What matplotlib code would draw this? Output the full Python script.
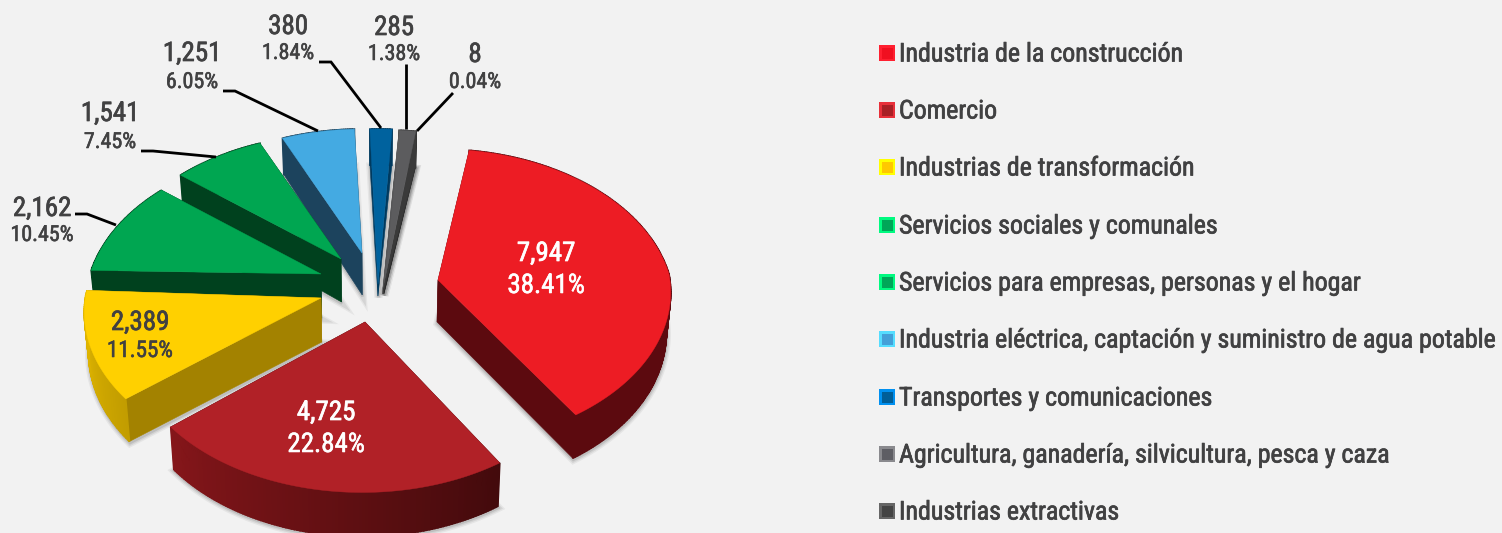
import numpy as np
import matplotlib
matplotlib.use("Agg")
import matplotlib.pyplot as plt
from matplotlib.patches import Polygon, Rectangle
from matplotlib import colors as mc
import matplotlib.patheffects as pe

# ---------- data ----------
categories = ["Industria de la construcción", "Comercio", "Industrias de transformación",
              "Servicios sociales y comunales", "Servicios para empresas, personas y el hogar",
              "Industria eléctrica, captación y suministro de agua potable",
              "Transportes y comunicaciones", "Agricultura, ganadería, silvicultura, pesca y caza",
              "Industrias extractivas"]
values = [7947, 4725, 2389, 2162, 1541, 1251, 380, 285, 8]
value_labels = ["7,947", "4,725", "2,389", "2,162", "1,541", "1,251", "380", "285", "8"]
pct_labels = ["38.41%", "22.84%", "11.55%", "10.45%", "7.45%", "6.05%", "1.84%", "1.38%", "0.04%"]

# ---------- styling / layout ----------
BG = "#F2F2F2"
TXT = "#414142"
top_col = ["#ED1C24", "#B12127", "#FFD000", "#00A651", "#00A651", "#44AAE2", "#00629E", "#5C5C5E", "#444444"]
wall_col = ["#5C0A0F", "#430A0C", "#A38200", "#00411E", "#00411E", "#1C435D", "#003A5F", "#3A3A3A", "#333333"]
rim_col = [("#5C0A0F", "#5C0A0F"), ("#430A0C", "#85161A"), ("#C29D00", "#E6BA00"),
           ("#00411E", "#00411E"), ("#00411E", "#00411E"), ("#1C435D", "#1C435D"),
           ("#003A5F", "#003A5F"), ("#3A3A3A", "#3A3A3A"), ("#333333", "#333333")]
# anchor of each exploded slice on the page, and the visible tip of the wedge
anchor = [(438, 274), (362, 322), (317, 294), (321, 274), (340, 259), (362.5, 254), (378, 254), (385, 255), (385, 255)]
tip = [(438, 280), (365, 322), (321, 298), (321, 274), (341, 259), (362, 253), (378, 284), (383, 288), (384, 290)]
tip_depth = [42, 44, 44, 44, 43, 42, 12, 6, 4]
A, B = 231.0, 150.0
K_BACK, K_FRONT = 0.20, 0.12
THETA0 = 9.3
CX = 375.0
draw_order = [8, 7, 6, 5, 4, 3, 2, 1, 0]

sw_outer = ["#FF2030", "#E8303A", "#FFFF00", "#00FA80", "#00FA80", "#55DDFF", "#0090F0", "#8A8A8E", "#666666"]
sw_inner = ["#F01020", "#A82025", "#FFC800", "#00A658", "#00A658", "#44A0D8", "#005E98", "#5E5E64", "#444444"]
legend_y = [53, 110, 167, 225, 282, 339, 397, 454, 511]

label_pos = [(546, 252, 284), (326, 411, 443), (140, 321, 349), (42, 207, 234), (110, 112, 141),
             (192, 52, 81), (288, 25, 52), (394, 26, 53), (475, 53, 81)]
label_col = ["white", "white", TXT, TXT, TXT, TXT, TXT, TXT, TXT]
pct_px = [25, 25, 21, 20, 20, 20, 20, 20, 20]
leaders = [None, None, None,
           [(75, 214), (87, 214), (116, 225)],
           [(141, 151), (153, 151), (216, 157)],
           [(223, 91), (235, 91), (318, 131)],
           [(319, 62), (331, 62), (381, 128)],
           [(406, 64), (406, 129)],
           [(453, 93), (417, 131)]]

plt.rcParams["font.family"] = ["Roboto Condensed", "Roboto", "DejaVu Sans"]

fig = plt.figure(figsize=(15.02, 5.33), dpi=100, facecolor=BG)
ax = fig.add_axes([0, 0, 1, 1])
ax.set_xlim(0, 1502)
ax.set_ylim(533, 0)
ax.axis("off")


def px(p):
    return p * 0.72


def rim_point(i, th):
    t = np.radians(th)
    u, v = np.sin(t), np.cos(t)
    d = 1 + (K_BACK if v > 0 else K_FRONT) * v
    return anchor[i][0] + A * u / d, anchor[i][1] - B * v / d


def lower(x, y, depth):
    return CX + (x - CX) * 0.985, y + depth


fracs = np.array(values, float) / np.sum(values)
edges = THETA0 + np.concatenate([[0], np.cumsum(fracs) * 360])

for rank, i in enumerate(draw_order):
    ths = np.linspace(edges[i], edges[i + 1], max(2, int((edges[i + 1] - edges[i]) * 1.5) + 2))
    top = [rim_point(i, t) for t in ths]
    dep = [40 - 4 * np.cos(np.radians(t)) for t in ths]
    bot = [lower(x, y, d) for (x, y), d in zip(top, dep)]
    tb = lower(tip[i][0], tip[i][1], tip_depth[i])
    outline = [tb, *bot]
    z = 2 + rank * 2
    # soft shadow
    for lw, a in ((6, 0.05), (4, 0.07), (2, 0.10)):
        ax.add_patch(Polygon(np.array(outline) + [0.5, 1.5], closed=True, fc="none", ec="k", lw=lw, alpha=a, zorder=z - 1))
    # radial walls
    ax.add_patch(Polygon([top[0], tip[i], tb, bot[0]], fc=wall_col[i], ec=wall_col[i], lw=0.4, zorder=z))
    ax.add_patch(Polygon([top[-1], tip[i], tb, bot[-1]], fc=wall_col[i], ec=wall_col[i], lw=0.4, zorder=z))
    # outer rim with colour running along the arc
    c0, c1 = np.array(mc.to_rgb(rim_col[i][0])), np.array(mc.to_rgb(rim_col[i][1]))
    n = len(ths) - 1
    for j in range(n):
        col = c0 + (c1 - c0) * j / max(1, n - 1)
        ax.add_patch(Polygon([top[j], top[j + 1], bot[j + 1], bot[j]], fc=col, ec=col, lw=1.2, zorder=z))
    # top face
    ax.add_patch(Polygon([tip[i], *top], fc=top_col[i], ec=top_col[i], lw=0.3, zorder=z + 0.5))

# labels
for i, (x, y1, y2) in enumerate(label_pos):
    c = label_col[i]
    ax.text(x, y1 + 1.5, value_labels[i], ha="center", va="center", fontsize=px(27), color=c, zorder=50,
            path_effects=[pe.withStroke(linewidth=0.5, foreground=c)])
    ax.text(x, y2 + 1.5, pct_labels[i], ha="center", va="center", fontsize=px(pct_px[i] + 2), color=c, zorder=50,
            path_effects=[pe.withStroke(linewidth=0.4, foreground=c)])
    if leaders[i]:
        xs, ys = zip(*leaders[i])
        ax.plot(xs, ys, color="black", lw=2.0, solid_joinstyle="miter", solid_capstyle="butt", zorder=40)

# legend
for i, name in enumerate(categories):
    y = legend_y[i]
    ax.add_patch(Rectangle((879, y - 8), 16, 16, fc=sw_outer[i], ec="none", zorder=30))
    ax.add_patch(Rectangle((881.5, y - 5.5), 11, 11, fc=sw_inner[i], ec="none", zorder=31))
    ax.text(899, y + 1.5, name, ha="left", va="center", fontsize=px(25.9), color=TXT, zorder=30,
            path_effects=[pe.withStroke(linewidth=0.5, foreground=TXT)])

fig.savefig("out.png", dpi=100, facecolor=BG)
